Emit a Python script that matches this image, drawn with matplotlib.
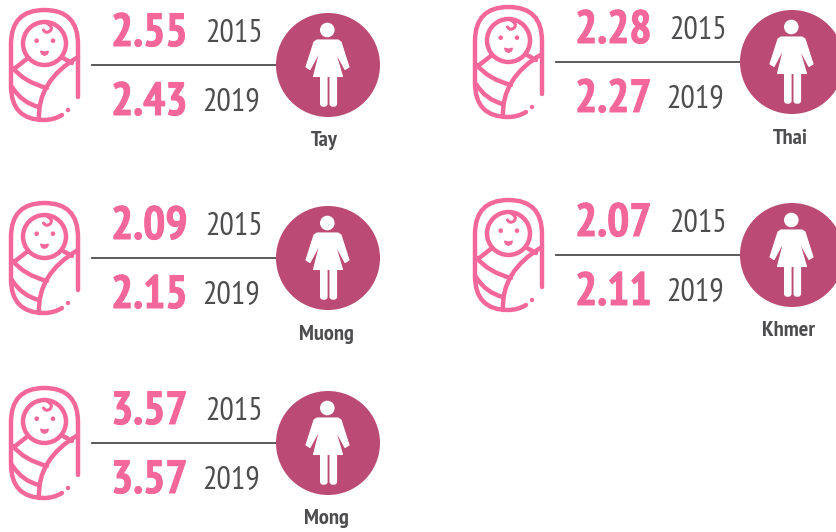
import matplotlib
matplotlib.use("Agg")
import matplotlib.pyplot as plt
import matplotlib.patheffects as pe
from matplotlib.patches import Circle, Polygon, PathPatch, FancyBboxPatch
from matplotlib.path import Path

# values
groups = ["Tay", "Thai", "Muong", "Khmer", "Mong"]
tfr_2015 = ["2.55", "2.28", "2.09", "2.07", "3.57"]
tfr_2019 = ["2.43", "2.27", "2.15", "2.11", "3.57"]
year_a = "2015"
year_b = "2019"

# panel offsets in pixels, from the Tay panel
off_x = [0, 464, 0, 464, 0]
off_y = [0, -3, 193, 190, 378]
label_x = [324, 790, 326, 789, 326.5]

PINK = "#f4679a"
PLUM = "#bb4a75"
GREY = "#4d4d4f"
NARROW = ["PT Sans Narrow", "Liberation Sans Narrow", "Roboto Condensed", "DejaVu Sans"]

fig = plt.figure(figsize=(8.37, 5.32), dpi=100)
ax = fig.add_axes([0, 0, 1, 1])
ax.set_xlim(0, 837)
ax.set_ylim(532, 0)
ax.axis("off")


def curve(ax, pts, lw=3.2):
    # pts[0] is the start, the rest come in quadratic control/end pairs
    codes = [Path.MOVETO] + [Path.CURVE3] * (len(pts) - 1)
    ax.add_patch(PathPatch(Path(pts, codes), fc="none", ec=PINK, lw=lw, capstyle="round", zorder=3))


def seg(ax, pts, lw=3.2):
    ax.plot([p[0] for p in pts], [p[1] for p in pts], color=PINK, lw=lw,
            solid_capstyle="round", solid_joinstyle="round", zorder=3)


def baby(ax, dx, dy):
    p = lambda x, y: (x + dx, y + dy)
    # swaddle outline, left open at the bottom right
    curve(ax, [p(78, 97), p(78, 70), p(78, 44), p(78, 10), p(44.5, 10),
               p(11, 10), p(11, 44), p(11, 65), p(11, 86), p(11, 120), p(44, 120),
               p(54, 120), p(62, 115)])
    ax.add_patch(Circle(p(44.5, 43.5), 21.5, fc="none", ec=PINK, lw=3.2, zorder=3))
    # face
    ax.add_patch(Circle(p(36.7, 40.7), 2.3, fc=PINK, ec="none", zorder=3))
    ax.add_patch(Circle(p(53, 40.7), 2.3, fc=PINK, ec="none", zorder=3))
    ax.add_patch(Polygon([p(40.5, 51), p(44.5, 52), p(48.5, 51), p(47.5, 54), p(44.5, 55.5), p(41.5, 54)],
                         fc=PINK, ec=PINK, lw=0.8, zorder=3))
    curve(ax, [p(46.7, 23), p(54, 27), p(50, 31), p(46, 34), p(43.5, 30)], lw=2.2)
    # wrap folds
    seg(ax, [p(14, 69), p(28, 58)])
    seg(ax, [p(63, 58), p(72, 63)])
    curve(ax, [p(78, 57), p(37, 81), p(39, 120)])
    curve(ax, [p(13, 68), p(24, 82), p(47, 88)])
    curve(ax, [p(12, 87), p(22, 103), p(39, 107)])
    ax.add_patch(Circle(p(68, 110), 2.2, fc=PINK, ec="none", zorder=3))


def woman(ax, dx, dy):
    p = lambda x, y: (x + dx, y + dy)
    ax.add_patch(Circle(p(328, 65), 52, fc=PLUM, ec="none", zorder=2))
    ax.add_patch(Circle(p(327.3, 30), 7.3, fc="white", ec="none", zorder=3))
    dress = [p(317, 40), p(338, 40), p(341, 42), p(349, 67), p(345, 69.5), p(335, 51),
             p(342.5, 76.5), p(313.5, 76.5), p(320, 51), p(310, 69.5), p(306, 67), p(314, 42)]
    ax.add_patch(Polygon(dress, fc="white", ec="white", lw=0.8, joinstyle="round", zorder=3))
    for x0 in (320, 329.5):
        ax.add_patch(FancyBboxPatch(p(x0 + 1.2, 76), 5.2, 29.5, boxstyle="round,pad=1.2,rounding_size=3",
                                    fc="white", ec="none", zorder=3))


heavy = [pe.withStroke(linewidth=0.7, foreground=PINK)]
for i, name in enumerate(groups):
    dx, dy = off_x[i], off_y[i]
    baby(ax, dx, dy)
    ax.plot([92 + dx, 290 + dx], [65 + dy, 65 + dy], color=GREY, lw=1.3, zorder=1)
    woman(ax, dx, dy)
    ax.text(111 + dx, 46 + dy, tfr_2015[i], color=PINK, fontsize=33.5, fontweight="bold",
            family=NARROW, ha="left", va="baseline", path_effects=heavy)
    ax.text(111 + dx, 115 + dy, tfr_2019[i], color=PINK, fontsize=33.5, fontweight="bold",
            family=NARROW, ha="left", va="baseline", path_effects=heavy)
    ax.text(234 + dx, 42 + dy, year_a, color=GREY, fontsize=23, family=NARROW,
            ha="center", va="baseline")
    ax.text(231 + dx, 110 + dy, year_b, color=GREY, fontsize=23, family=NARROW,
            ha="center", va="baseline")
    ax.text(label_x[i], 146.5 + dy, name, color=GREY, fontsize=16.2, fontweight="bold",
            family=NARROW, ha="center", va="baseline")

fig.savefig("out.png", dpi=100)
